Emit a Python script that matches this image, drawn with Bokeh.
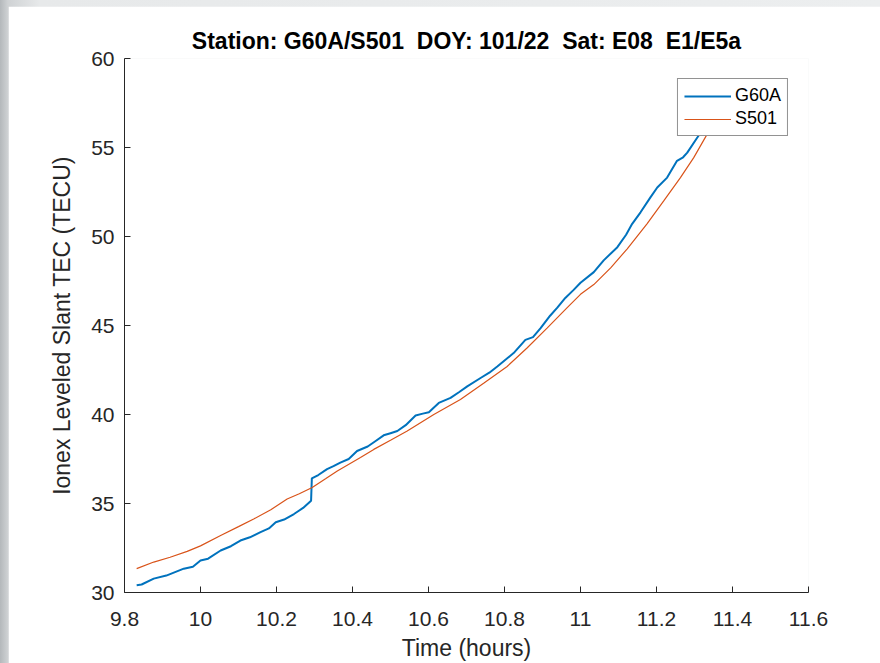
from bokeh.plotting import figure
from bokeh.models import Legend, LegendItem, FixedTicker, Range1d
from bokeh.layouts import column
from bokeh.embed import file_html
from bokeh.resources import INLINE

# Leveled slant TEC, time in hours (UT)
g60a_time = [9.832, 9.845, 9.877, 9.91, 9.956, 9.98, 10.0, 10.02, 10.053, 10.08,
             10.105, 10.13, 10.158, 10.18, 10.198, 10.22, 10.246, 10.27, 10.291, 10.293,
             10.31, 10.333, 10.35, 10.368, 10.39, 10.412, 10.44, 10.46, 10.482, 10.5,
             10.518, 10.54, 10.566, 10.585, 10.601, 10.627, 10.658, 10.68, 10.702, 10.737,
             10.76, 10.781, 10.824, 10.855, 10.875, 10.895, 10.92, 10.939, 10.96, 10.982,
             11.0, 11.035, 11.061, 11.097, 11.12, 11.136, 11.158, 11.184, 11.202, 11.228,
             11.254, 11.27, 11.281, 11.307, 11.325, 11.345]
g60a_tec = [30.41, 30.45, 30.78, 30.95, 31.34, 31.45, 31.8, 31.9, 32.36, 32.6,
            32.92, 33.1, 33.39, 33.6, 33.95, 34.1, 34.41, 34.75, 35.16, 36.41,
            36.6, 36.93, 37.1, 37.3, 37.5, 37.95, 38.2, 38.5, 38.83, 38.95,
            39.07, 39.4, 39.94, 40.05, 40.13, 40.65, 40.93, 41.25, 41.58, 42.05,
            42.35, 42.7, 43.45, 44.19, 44.35, 44.85, 45.55, 46.0, 46.55, 47.0,
            47.4, 48.0, 48.66, 49.4, 50.1, 50.71, 51.36, 52.2, 52.75, 53.31,
            54.25, 54.45, 54.71, 55.55, 56.1, 57.0]

s501_time = [9.832, 9.877, 9.92, 9.965, 10.0, 10.053, 10.1, 10.14, 10.185, 10.228,
             10.26, 10.294, 10.33, 10.36, 10.421, 10.456, 10.5, 10.544, 10.614, 10.684,
             10.746, 10.807, 10.86, 10.912, 10.965, 11.0, 11.035, 11.08, 11.123, 11.175,
             11.219, 11.263, 11.298, 11.333, 11.36]
s501_tec = [31.34, 31.71, 31.98, 32.31, 32.62, 33.2, 33.7, 34.13, 34.65, 35.25,
            35.55, 35.9, 36.4, 36.83, 37.58, 38.04, 38.55, 39.07, 40.0, 40.84,
            41.77, 42.7, 43.75, 44.85, 46.0, 46.75, 47.3, 48.25, 49.31, 50.71,
            52.0, 53.31, 54.43, 55.74, 56.9]

x_ticks = [9.8, 10.0, 10.2, 10.4, 10.6, 10.8, 11.0, 11.2, 11.4, 11.6]
y_ticks = [30, 35, 40, 45, 50, 55, 60]

AX = "#262626"
FONT = "Liberation Sans"
NB2 = "\u00a0 "  # keeps the double gaps between title fields

p = figure(width=872, height=657, output_backend="svg", toolbar_location=None,
           x_range=Range1d(9.8, 11.6), y_range=Range1d(30, 60),
           min_border_left=116, min_border_right=72, min_border_top=52, min_border_bottom=69,
           margin=(6, 0, 0, 8),
           title="Station: G60A/S501" + NB2 + "DOY: 101/22" + NB2 + "Sat: E08" + NB2 + "E1/E5a")

p.background_fill_color = "white"
p.border_fill_color = "white"
p.outline_line_color = None
p.grid.visible = False

p.title.text_font = FONT
p.title.text_font_size = "23px"
p.title.text_font_style = "bold"
p.title.text_color = "black"
p.title.align = "center"
p.title.offset = 8
p.title.standoff = 9

l1 = p.line(g60a_time, g60a_tec, line_color="#0072BD", line_width=2.0)
l2 = p.line(s501_time, s501_tec, line_color="#D95319", line_width=1.2)

for ax, ticks in ((p.xaxis[0], x_ticks), (p.yaxis[0], y_ticks)):
    ax.ticker = FixedTicker(ticks=ticks)
    ax.minor_tick_line_color = None
    ax.major_tick_in = 6
    ax.major_tick_out = 0
    ax.axis_line_color = AX
    ax.major_tick_line_color = AX
    ax.major_label_text_color = AX
    ax.major_label_text_font = FONT
    ax.major_label_text_font_size = "21px"
    ax.axis_label_text_font = FONT
    ax.axis_label_text_font_size = "23px"
    ax.axis_label_text_font_style = "normal"
    ax.axis_label_text_color = AX

p.xaxis.axis_label = "Time (hours)"
p.yaxis.axis_label = "Ionex Leveled Slant TEC (TECU)"
p.xaxis.major_label_standoff = 19
p.xaxis.axis_label_standoff = 6
p.yaxis.major_label_standoff = 10
p.yaxis.axis_label_standoff = 13

legend = Legend(items=[LegendItem(label="G60A", renderers=[l1]),
                       LegendItem(label="S501", renderers=[l2])],
                location="top_right", margin=20, padding=6, spacing=2,
                glyph_width=47, glyph_height=20, label_standoff=4,
                label_text_font=FONT, label_text_font_size="18px",
                label_text_color="black",
                border_line_color=AX, border_line_width=1,
                background_fill_color="white", background_fill_alpha=1.0)
p.add_layout(legend, "center")

page = column(p, width=880, height=663,
              styles={"background": "linear-gradient(to right, #b4b8bb 0px, #cfd2d4 8px, #e7e9ea 40px, #eceeef 100%)"})

open("out.html", "w").write(file_html(page, INLINE))
